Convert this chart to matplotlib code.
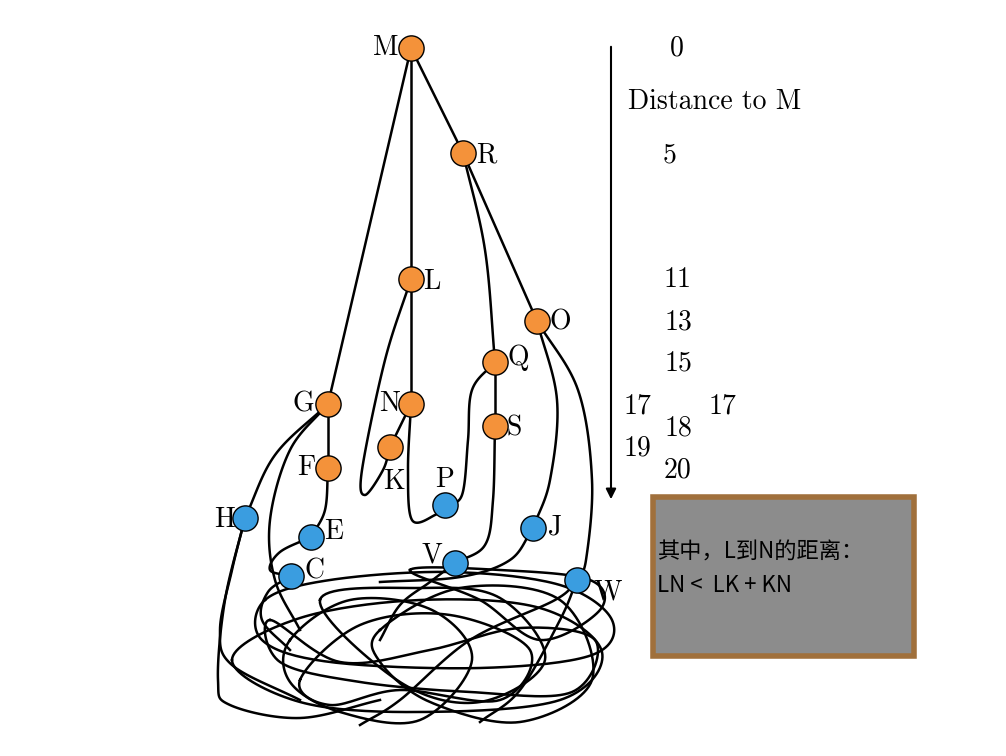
import numpy as np
import matplotlib.pyplot as plt

# node name -> (x, y, colour group), in picture pixel units
node_names = ["M", "R", "L", "O", "Q", "G", "N", "S", "K", "F", "P", "H", "E", "J", "V", "C", "W"]
node_x = [411, 463, 411, 537, 495, 328, 411, 495, 390, 328, 445, 245, 311, 533, 455, 291, 577]
node_y = [48, 153, 279, 321, 362, 404, 404, 426, 447, 468, 505, 518, 537, 528, 563, 576, 580]
node_blue = [0, 0, 0, 0, 0, 0, 0, 0, 0, 0, 1, 1, 1, 1, 1, 1, 1]
label_dx = [-25, 23, 21, 23, 23, -25, -21, 19, 4, -22, 0, -20, 23, 22, -23, 24, 31]
label_dy = [0, 2, 3, 1, -4, 0, 0, 2, 35, 0, -25, 2, -5, -1, -8, -5, 12]

dist_labels = ["0", "Distance to M", "5", "11", "13", "15", "17", "17", "18", "19", "20"]
dist_x = [677, 715, 670, 678, 678, 678, 637, 722, 678, 637, 678]
dist_y = [48, 102, 155, 280, 322, 363, 406, 406, 428, 448, 470]

edges = [
    [(411, 48), (328, 404)],
    [(411, 48), (411, 279)],
    [(411, 48), (463, 153)],
    [(463, 153), (537, 321)],
    [(463, 153), (485, 250), (495, 362)],
    [(411, 279), (411, 404)],
    [(411, 279), (385, 360), (362, 470), (365, 495), (383, 470), (390, 447)],
    [(411, 404), (390, 447)],
    [(411, 404), (408, 470), (412, 520), (435, 515), (445, 505)],
    [(495, 362), (495, 426)],
    [(495, 362), (472, 390), (468, 440), (462, 495), (445, 505)],
    [(495, 426), (493, 500), (485, 545), (455, 563)],
    [(537, 321), (557, 400), (550, 480), (533, 528)],
    [(537, 321), (578, 390), (592, 480), (586, 560), (577, 580)],
    [(328, 404), (328, 468)],
    [(328, 468), (325, 510), (311, 537)],
    [(311, 537), (280, 552), (270, 570), (291, 576)],
    [(328, 404), (275, 455), (245, 518)],
    [(328, 404), (290, 450), (270, 520), (275, 580), (300, 630)],
    [(245, 518), (232, 570), (220, 630), (232, 665), (300, 700)],
    [(245, 518), (225, 600), (218, 680), (230, 705), (300, 718), (380, 700)],
    [(533, 528), (510, 560), (460, 577), (380, 582)],
    [(455, 563), (430, 582), (400, 605), (380, 640)],
    [(577, 580), (560, 620), (520, 690), (480, 722)],
    [(577, 580), (555, 600), (470, 640), (400, 700), (360, 725)],
    [(291, 576), (268, 592), (262, 620), (290, 650)],
]

loops = [
    [(265, 600), (330, 580), (450, 572), (560, 585), (612, 620), (592, 655), (480, 668), (330, 662), (262, 640)],
    [(232, 660), (300, 618), (420, 600), (540, 608), (602, 652), (560, 700), (420, 712), (300, 702)],
    [(290, 640), (350, 600), (432, 610), (472, 660), (420, 720), (340, 712), (290, 682)],
    [(380, 630), (460, 588), (560, 600), (592, 680), (520, 722), (430, 702), (380, 662)],
    [(270, 620), (340, 662), (430, 650), (520, 628), (595, 640), (572, 692), (470, 692), (360, 682), (280, 662)],
    [(320, 600), (400, 682), (480, 702), (545, 660), (500, 598), (420, 588)],
    [(300, 680), (360, 625), (450, 615), (530, 650), (500, 700), (400, 690), (330, 705)],
    [(410, 570), (480, 600), (540, 640), (600, 610), (590, 580), (500, 570)],
]


def catmull(pts, closed=False, n=20):
    p = np.array(pts, float)
    if closed:
        p = np.vstack([p[-1], p, p[0], p[1]])
    else:
        p = np.vstack([2 * p[0] - p[1], p, 2 * p[-1] - p[-2]])
    out = []
    t = np.linspace(0, 1, n)[:, None]
    for i in range(1, len(p) - 2):
        p0, p1, p2, p3 = p[i - 1], p[i], p[i + 1], p[i + 2]
        out.append(0.5 * ((2 * p1) + (-p0 + p2) * t + (2 * p0 - 5 * p1 + 4 * p2 - p3) * t ** 2
                          + (-p0 + 3 * p1 - 3 * p2 + p3) * t ** 3))
    return np.vstack(out)


fig = plt.figure(figsize=(10.06, 7.56), dpi=100)
ax = fig.add_axes([0, 0, 1, 1])
ax.set_xlim(0, 1006)
ax.set_ylim(756, 0)
ax.axis("off")

for e in edges:
    c = catmull(e) if len(e) > 2 else np.array(e)
    ax.plot(c[:, 0], c[:, 1], color="black", lw=1.8, zorder=1)
for lp in loops:
    c = catmull(lp, closed=True)
    ax.plot(c[:, 0], c[:, 1], color="black", lw=1.8, zorder=1)

serif = "cmr10"
for name, x, y, b, dx, dy in zip(node_names, node_x, node_y, node_blue, label_dx, label_dy):
    ax.scatter(x, y, s=330, color="#3a9de0" if b else "#f4923a", edgecolor="black", lw=1, zorder=3)
    ax.text(x + dx, y + dy, name, fontsize=20, family=serif, ha="center", va="center", zorder=4)

ax.annotate("", xy=(611, 502), xytext=(611, 44),
            arrowprops=dict(arrowstyle="-|>", color="black", lw=1.5, mutation_scale=15))
for t, x, y in zip(dist_labels, dist_x, dist_y):
    ax.text(x, y, t, fontsize=20, family=serif, ha="center", va="center")

box = plt.Rectangle((653, 497), 261, 159, facecolor="#8c8c8c", edgecolor="#a0703c", lw=4)
ax.add_patch(box)
cjk = ["Noto Sans CJK SC", "DejaVu Sans"]
ax.text(657, 552, "其中，L到N的距离：", fontsize=16, family=cjk, weight="medium",
        va="center", ha="left")
ax.text(657, 586, "LN <  LK + KN", fontsize=16, family=cjk, weight="medium",
        va="center", ha="left")

fig.savefig("out.png", dpi=100)
